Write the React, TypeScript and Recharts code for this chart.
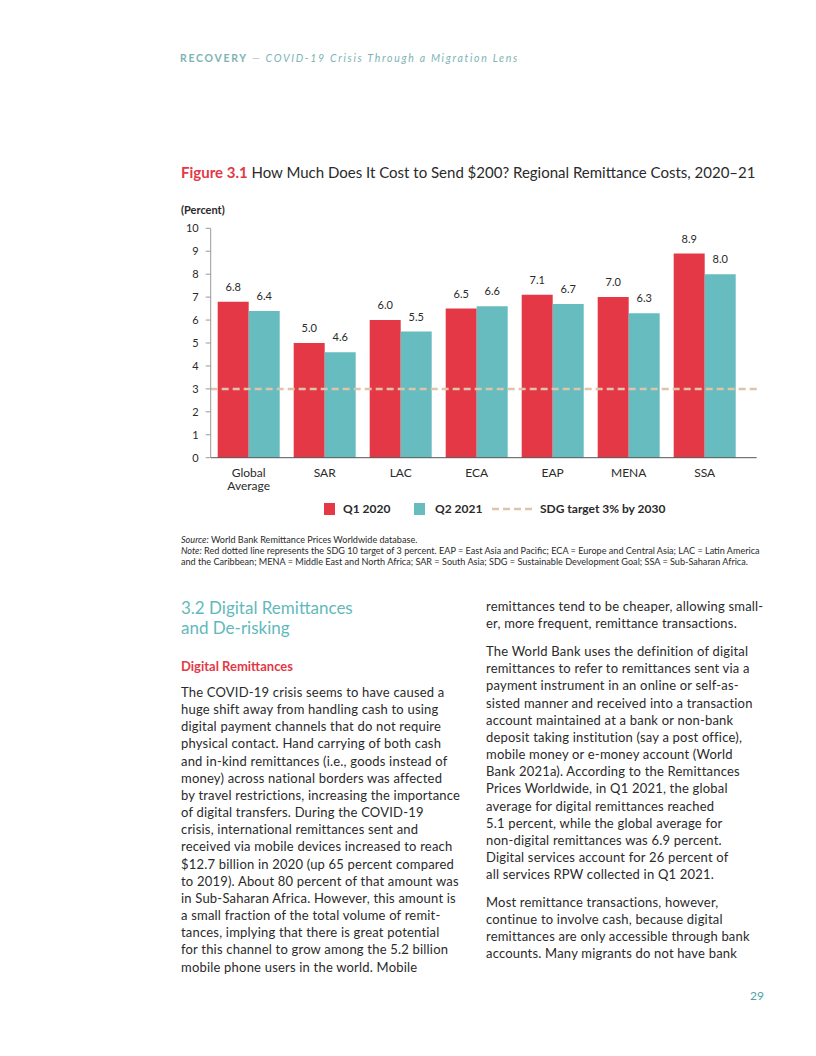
import React from 'react'
import { BarChart, Bar, XAxis, YAxis, ReferenceLine, LabelList } from 'recharts'

const regions = ['Global\nAverage', 'SAR', 'LAC', 'ECA', 'EAP', 'MENA', 'SSA']
const q1_2020 = [6.8, 5.0, 6.0, 6.5, 7.1, 7.0, 8.9]
const q2_2021 = [6.4, 4.6, 5.5, 6.6, 6.7, 6.3, 8.0]
const yTicks = [0, 1, 2, 3, 4, 5, 6, 7, 8, 9, 10]
const sdgTarget = 3

const RED = '#E43847'
const TEAL = '#66BCBE'
const BEIGE = '#DDC4AA'
const INK = '#2a2a2a'
const FONT = 'Lato, "Open Sans", sans-serif'

const leftLines = [
  'The COVID-19 crisis seems to have caused a',
  'huge shift away from handling cash to using',
  'digital payment channels that do not require',
  'physical contact. Hand carrying of both cash',
  'and in-kind remittances (i.e., goods instead of',
  'money) across national borders was affected',
  'by travel restrictions, increasing the importance',
  'of digital transfers. During the COVID-19',
  'crisis, international remittances sent and',
  'received via mobile devices increased to reach',
  '$12.7 billion in 2020 (up 65 percent compared',
  'to 2019). About 80 percent of that amount was',
  'in Sub-Saharan Africa. However, this amount is',
  'a small fraction of the total volume of remit-',
  'tances, implying that there is great potential',
  'for this channel to grow among the 5.2 billion',
  'mobile phone users in the world. Mobile',
]

const rightParas = [
  ['remittances tend to be cheaper, allowing small-', 'er, more frequent, remittance transactions.'],
  [
    'The World Bank uses the definition of digital',
    'remittances to refer to remittances sent via a',
    'payment instrument in an online or self-as-',
    'sisted manner and received into a transaction',
    'account maintained at a bank or non-bank',
    'deposit taking institution (say a post office),',
    'mobile money or e-money account (World',
    'Bank 2021a). According to the Remittances',
    'Prices Worldwide, in Q1 2021, the global',
    'average for digital remittances reached',
    '5.1 percent, while the global average for',
    'non-digital remittances was 6.9 percent.',
    'Digital services account for 26 percent of',
    'all services RPW collected in Q1 2021.',
  ],
  [
    'Most remittance transactions, however,',
    'continue to involve cash, because digital',
    'remittances are only accessible through bank',
    'accounts. Many migrants do not have bank',
  ],
]

const data = regions.map((r, i) => ({ region: r, q1: q1_2020[i], q2: q2_2021[i] }))

// two-line category labels
const RegionTick = (props: any) => {
  const { x, y, payload } = props
  const lines = String(payload.value).split('\n')
  return (
    <text x={x} y={y} textAnchor="middle" fill={INK} fontSize={12} fontFamily={FONT}>
      {lines.map((l, i) => (
        <tspan key={i} x={x} dy={i === 0 ? '0.9em' : 13}>
          {l}
        </tspan>
      ))}
    </text>
  )
}

const fmt = (v: any) => Number(v).toFixed(1)

const abs = (left: number, top: number, extra: React.CSSProperties = {}): React.CSSProperties => ({
  position: 'absolute',
  left,
  top,
  whiteSpace: 'nowrap',
  ...extra,
})

export default function App() {
  const bodyStyle: React.CSSProperties = { fontSize: 13, color: INK, lineHeight: '17.15px', letterSpacing: 0.2 }
  let ry = 598
  const rightBlocks: React.ReactNode[] = []
  rightParas.forEach((p, pi) => {
    rightBlocks.push(
      <div key={pi} style={abs(486, ry, bodyStyle)}>
        {p.map((l, i) => (
          <div key={i}>{l}</div>
        ))}
      </div>
    )
    ry += p.length * 17.15 + 10.8
  })

  return (
    <div style={{ position: 'relative', width: 816, height: 1056, fontFamily: FONT, background: '#fff' }}>
      <style>{'body{margin:0}'}</style>

      <div style={abs(180, 52, { fontSize: 10.5, letterSpacing: 1.7, color: '#7DB3B5' })}>
        <b>RECOVERY</b>
        <i> — COVID-19 Crisis Through a Migration Lens</i>
      </div>

      <div style={abs(181, 163, { fontSize: 15, color: INK })}>
        <b style={{ color: RED }}>Figure 3.1</b> How Much Does It Cost to Send $200? Regional Remittance Costs, 2020–21
      </div>

      <div style={abs(181, 203, { fontSize: 11, fontWeight: 700, color: INK })}>(Percent)</div>

      <div style={abs(150, 200)}>
        <BarChart
          width={630}
          height={300}
          data={data}
          margin={{ top: 28.3, right: 23.3, left: 20.7, bottom: 2.3 }}
          barGap={0}
          barSize={31}
        >
          <XAxis
            dataKey="region"
            axisLine={{ stroke: '#555' }}
            tickLine={false}
            interval={0}
            height={40}
            padding={{ left: 0, right: 14 }}
            tick={<RegionTick />}
          />
          <YAxis
            domain={[0, 10]}
            ticks={yTicks}
            width={40}
            axisLine={{ stroke: '#999' }}
            tickLine={{ stroke: '#999' }}
            tickSize={5}
            tickMargin={7}
            tick={{ fill: INK, fontSize: 11, fontFamily: FONT }}
          />
          <Bar dataKey="q1" fill={RED} isAnimationActive={false}>
            <LabelList dataKey="q1" position="top" offset={11} formatter={fmt} fill={INK} fontSize={11} fontFamily={FONT} />
          </Bar>
          <Bar dataKey="q2" fill={TEAL} isAnimationActive={false}>
            <LabelList dataKey="q2" position="top" offset={11} formatter={fmt} fill={INK} fontSize={11} fontFamily={FONT} />
          </Bar>
          <ReferenceLine y={sdgTarget} stroke={BEIGE} strokeWidth={2.5} strokeDasharray="7 4" />
        </BarChart>
      </div>

      {/* legend */}
      <div style={abs(324, 503, { width: 11, height: 12, background: RED })} />
      <div style={abs(343, 501, { fontSize: 12, fontWeight: 700, color: INK })}>Q1 2020</div>
      <div style={abs(414, 503, { width: 11, height: 12, background: TEAL })} />
      <div style={abs(435, 501, { fontSize: 12, fontWeight: 700, color: INK })}>Q2 2021</div>
      <svg style={abs(491, 505)} width={42} height={8}>
        <line x1={1} y1={4} x2={41} y2={4} stroke={BEIGE} strokeWidth={2.5} strokeDasharray="7 4" />
      </svg>
      <div style={abs(540, 501, { fontSize: 12, fontWeight: 700, color: INK })}>SDG target 3% by 2030</div>

      <div style={abs(181, 534, { fontSize: 9.1, color: INK, lineHeight: '11.2px' })}>
        <div>
          <i>Source:</i> World Bank Remittance Prices Worldwide database.
        </div>
        <div>
          <i>Note:</i> Red dotted line represents the SDG 10 target of 3 percent. EAP = East Asia and Pacific; ECA = Europe and Central Asia; LAC = Latin America
        </div>
        <div>
          and the Caribbean; MENA = Middle East and North Africa; SAR = South Asia; SDG = Sustainable Development Goal; SSA = Sub-Saharan Africa.
        </div>
      </div>

      <div style={abs(181, 598, { fontSize: 17, color: '#62B9BB', lineHeight: '20px' })}>
        <div>3.2 Digital Remittances</div>
        <div>and De-risking</div>
      </div>

      <div style={abs(181, 658, { fontSize: 13, fontWeight: 700, color: RED })}>Digital Remittances</div>

      <div style={abs(181, 684, bodyStyle)}>
        {leftLines.map((l, i) => (
          <div key={i}>{l}</div>
        ))}
      </div>

      {rightBlocks}

      <div style={abs(750, 988, { fontSize: 12, color: '#4FA4A6' })}>29</div>
    </div>
  )
}
